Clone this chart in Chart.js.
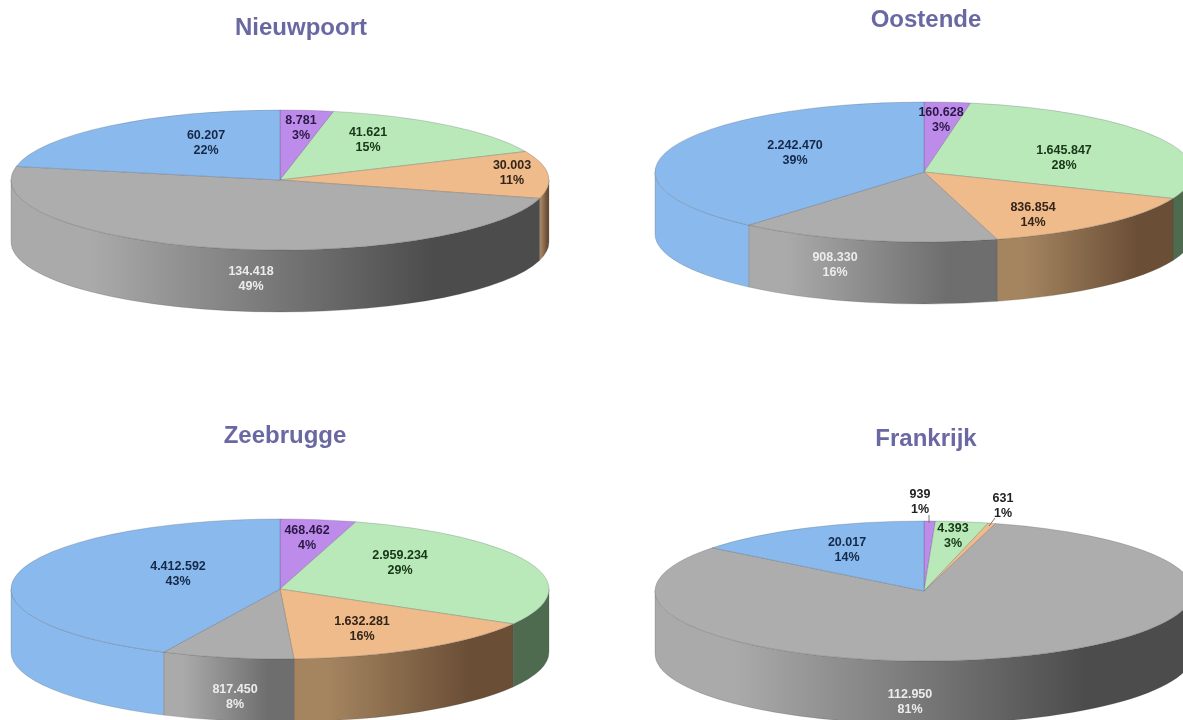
<!DOCTYPE html>
<html>
<head>
<meta charset="utf-8">
<title>Nieuwpoort, Oostende, Zeebrugge, Frankrijk</title>
<script src="https://cdn.jsdelivr.net/npm/chart.js@4/dist/chart.umd.min.js"></script>
<style>
    html, body { margin: 0; padding: 0; background: #fff; overflow: hidden; }
    #page { position: relative; width: 1183px; height: 720px; overflow: hidden; }
    canvas { position: absolute; filter: blur(0.4px); }
</style>
</head>
<body>
<div id="page"></div>
<script>
// slices run clockwise from 12 o'clock
const sliceNames = ['Paars', 'Groen', 'Oranje', 'Grijs', 'Blauw'];

const nieuwpoortValues = [8781, 41621, 30003, 134418, 60207];
const nieuwpoortPct = ['3%', '15%', '11%', '49%', '22%'];
const oostendeValues = [160628, 1645847, 836854, 908330, 2242470];
const oostendePct = ['3%', '28%', '14%', '16%', '39%'];
const zeebruggeValues = [468462, 2959234, 1632281, 817450, 4412592];
const zeebruggePct = ['4%', '29%', '16%', '8%', '43%'];
const frankrijkValues = [939, 4393, 631, 112950, 20017];
const frankrijkPct = ['1%', '3%', '1%', '81%', '14%'];

const topColors = ['#bd8ceb', '#b9e9b9', '#efbb8a', '#adadad', '#8abaed'];
const wallLight = ['#8a64ad', '#4f6b4f', '#a58560', '#aaaaaa', '#8abaed'];
const wallDark = ['#6b4d88', '#4f6b4f', '#6a4e36', '#6e6e6e', '#8abaed'];
const labelColors = ['#2a1845', '#173517', '#33241a', '#ececec', '#15294a'];

const RADIUS = 269;
const FLATTEN = 70 / 269;

function fmt(n) {
    return String(n).replace(/\B(?=(\d{3})+(?!\d))/g, '.');
}

const pie3d = {
    id: 'pie3d',
    beforeDatasetsDraw(chart, args, opts) {
        const ctx = chart.ctx;
        const arcs = chart.getDatasetMeta(0).data;
        const cx = arcs[0].x, cy = arcs[0].y;
        const ry = RADIUS * FLATTEN;
        arcs.forEach((arc, i) => {
            const lo = Math.max(arc.startAngle, 0);
            const hi = Math.min(arc.endAngle, Math.PI);
            if (hi <= lo) return;
            const x0 = cx + RADIUS * Math.cos(hi);
            const x1 = cx + RADIUS * Math.cos(lo);
            const g = ctx.createLinearGradient(x0, 0, x1, 0);
            // wide grey slices run down to a much darker end
            const dark = (i === 3 && x1 - x0 > 300) ? '#4c4c4c' : wallDark[i];
            g.addColorStop(0, wallLight[i]);
            g.addColorStop(0.15, wallLight[i]);
            g.addColorStop(0.8, dark);
            g.addColorStop(1, dark);
            ctx.save();
            ctx.beginPath();
            ctx.ellipse(cx, cy, RADIUS, ry, 0, lo, hi);
            ctx.ellipse(cx, cy + opts.depth, RADIUS, ry, 0, hi, lo, true);
            ctx.closePath();
            ctx.fillStyle = g;
            ctx.fill();
            ctx.strokeStyle = 'rgba(60,60,60,0.2)';
            ctx.lineWidth = 1;
            ctx.stroke();
            ctx.restore();
        });
    },
    beforeDatasetDraw(chart) {
        const ctx = chart.ctx;
        const arc = chart.getDatasetMeta(0).data[0];
        ctx.save();
        ctx.translate(arc.x, arc.y);
        ctx.scale(1, FLATTEN);
        ctx.translate(-arc.x, -arc.y);
    },
    afterDatasetDraw(chart) {
        chart.ctx.restore();
    },
    afterDatasetsDraw(chart, args, opts) {
        const ctx = chart.ctx;
        const arc0 = chart.getDatasetMeta(0).data[0];
        const cx = arc0.x, cy = arc0.y;
        const values = chart.data.datasets[0].data;
        ctx.save();
        ctx.textAlign = 'center';
        ctx.textBaseline = 'middle';

        ctx.font = 'bold 24px "Liberation Sans", Arial, sans-serif';
        ctx.fillStyle = '#6a68a3';
        ctx.fillText(opts.title, cx + opts.titleAt[0], cy + opts.titleAt[1]);

        (opts.leaders || []).forEach(l => {
            ctx.beginPath();
            ctx.moveTo(cx + l[0], cy + l[1]);
            ctx.lineTo(cx + l[2], cy + l[3]);
            ctx.strokeStyle = '#777';
            ctx.lineWidth = 1;
            ctx.stroke();
        });

        ctx.font = 'bold 12.5px "Liberation Sans", Arial, sans-serif';
        values.forEach((v, i) => {
            const p = opts.labelAt[i];
            ctx.fillStyle = opts.labelColor && opts.labelColor[i] || labelColors[i];
            ctx.fillText(fmt(v), cx + p[0], cy + p[1] - 7);
            ctx.fillText(opts.pct[i], cx + p[0], cy + p[1] + 8);
        });
        ctx.restore();
    }
};

function makePie(c) {
    const canvas = document.createElement('canvas');
    canvas.width = 600;
    canvas.height = 360;
    canvas.style.width = '600px';
    canvas.style.height = '360px';
    canvas.style.left = (c.cx - 300) + 'px';
    canvas.style.top = (c.cy - 180) + 'px';
    document.getElementById('page').appendChild(canvas);
    new Chart(canvas.getContext('2d'), {
        type: 'pie',
        data: {
            labels: sliceNames,
            datasets: [{
                data: c.values,
                backgroundColor: topColors,
                borderColor: 'rgba(70,80,90,0.4)',
                borderWidth: 1,
                clip: false
            }]
        },
        options: {
            responsive: false,
            animation: false,
            radius: RADIUS,
            events: [],
            layout: { padding: 0 },
            plugins: {
                legend: { display: false },
                tooltip: { enabled: false },
                pie3d: {
                    title: c.title,
                    titleAt: c.titleAt,
                    depth: c.depth,
                    pct: c.pct,
                    labelAt: c.labelAt,
                    labelColor: c.labelColor,
                    leaders: c.leaders
                }
            }
        },
        plugins: [pie3d]
    });
}

makePie({
    title: 'Nieuwpoort', cx: 280, cy: 180, depth: 62, titleAt: [21, -152],
    values: nieuwpoortValues, pct: nieuwpoortPct,
    labelAt: [[21, -52], [88, -40], [232, -7], [-29, 99], [-74, -37]]
});
makePie({
    title: 'Oostende', cx: 924, cy: 172, depth: 62, titleAt: [2, -152],
    values: oostendeValues, pct: oostendePct,
    labelAt: [[17, -52], [140, -14], [109, 43], [-89, 93], [-129, -19]]
});
makePie({
    title: 'Zeebrugge', cx: 280, cy: 589, depth: 63, titleAt: [5, -153],
    values: zeebruggeValues, pct: zeebruggePct,
    labelAt: [[27, -51], [120, -26], [82, 40], [-45, 108], [-102, -15]]
});
makePie({
    title: 'Frankrijk', cx: 924, cy: 591, depth: 63, titleAt: [2, -152],
    values: frankrijkValues, pct: frankrijkPct,
    labelAt: [[-4, -89], [29, -55], [79, -85], [-14, 111], [-77, -41]],
    labelColor: ['#222', '#173517', '#222', '#ececec', '#15294a'],
    leaders: [[5, -76, 5, -68], [71, -73, 65, -65]]
});
</script>
</body>
</html>
